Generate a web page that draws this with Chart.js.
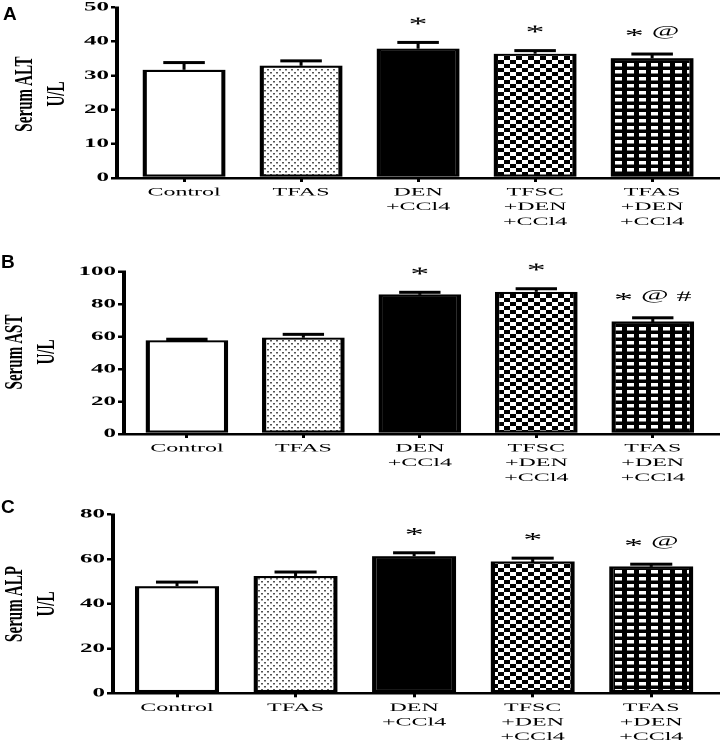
<!DOCTYPE html>
<html>
<head>
<meta charset="utf-8">
<script src="https://cdn.jsdelivr.net/npm/chart.js@4.4.1/dist/chart.umd.min.js"></script>
<style>
  html, body { margin: 0; padding: 0; background: #fff; }
  body { width: 720px; height: 751px; position: relative; overflow: hidden; font-family: "Liberation Serif", serif; }
  .panel { position: absolute; left: 0; width: 720px; }
  .stretch { position: absolute; left: 0; top: 0; width: 360px; transform: scaleX(2); transform-origin: 0 0; }
  .letter { position: absolute; font: bold 19px "Liberation Sans", Arial, sans-serif; line-height: 1; }
  .ytitle { position: absolute; left: 0; top: 0; white-space: nowrap; font-size: 26px; font-weight: bold; line-height: 1; transform-origin: 0 0; color: #000; }
</style>
</head>
<body>
<script>
// groups on the x axis (multi-line labels)
const groups = [["Control"], ["TFAS"], ["DEN", "+CCl4"], ["TFSC", "+DEN", "+CCl4"], ["TFAS", "+DEN", "+CCl4"]]

// serum ALT (U/L)
const altMean = [31.7, 32.9, 37.9, 36.4, 35.1]
const altSem = [2.1, 1.4, 1.8, 0.9, 1.2]
const altMarks = ["", "", "*", "*", "* @"]

// serum AST (U/L)
const astMean = [57.8, 59.4, 86.0, 87.6, 69.3]
const astSem = [0.6, 2.0, 1.3, 1.9, 2.3]
const astMarks = ["", "", "*", "*", "* @ #"]

// serum ALP (U/L)
const alpMean = [47.9, 52.4, 61.3, 58.9, 56.7]
const alpSem = [1.8, 1.8, 1.5, 1.5, 1.0]
const alpMarks = ["", "", "*", "*", "* @"]

Chart.defaults.color = "#000"
Chart.defaults.font.family = '"Liberation Serif", "Times New Roman", serif'

// tiles are drawn in backing pixels (canvas runs at dpr 2, then stretched 2x in x by css)
function makePattern(w, h, draw) {
  const c = document.createElement("canvas")
  c.width = w; c.height = h
  const g = c.getContext("2d")
  draw(g, w, h)
  const p = g.createPattern(c, "repeat")
  p.setTransform(new DOMMatrix([0.5, 0, 0, 0.5, 0, 0]))
  return p
}

const dots = makePattern(6, 12, (g, w, h) => {
  g.fillStyle = "#fff"; g.fillRect(0, 0, w, h)
  g.fillStyle = "#555"
  g.fillRect(0, 0, 2, 3)
  g.fillRect(3, 6, 2, 3)
})
const checker = makePattern(12, 16, (g, w, h) => {
  g.fillStyle = "#fff"; g.fillRect(0, 0, w, h)
  g.fillStyle = "#000"
  g.fillRect(0, 0, 6, 8)
  g.fillRect(6, 8, 6, 8)
})
const grid = makePattern(12, 14, (g, w, h) => {
  g.fillStyle = "#000"; g.fillRect(0, 0, w, h)
  g.fillStyle = "#fff"
  g.fillRect(3, 0, 7, 7)
})
const fills = ["#fff", dots, "#000", checker, grid]

// top-only error bars plus the significance marks above them
const errorBars = {
  id: "errorBars",
  afterDatasetsDraw(chart, args, opts) {
    const { ctx } = chart
    const y = chart.scales.y
    const meta = chart.getDatasetMeta(0)
    ctx.save()
    ctx.fillStyle = "#000"
    meta.data.forEach((bar, i) => {
      const top = y.getPixelForValue(opts.mean[i] + opts.sem[i])
      const w = bar.width * 0.5
      ctx.fillRect(bar.x - 0.75, top, 1.5, bar.y - top)
      ctx.fillRect(bar.x - w / 2, top - 1.5, w, 3)
      if (!opts.marks[i]) return
      const parts = opts.marks[i].split(" ").map(t => {
        ctx.font = (t === "*" ? "19px" : "15px") + ' "Liberation Serif"'
        const m = ctx.measureText(t)
        return { t, font: ctx.font, w: m.width, a: m.actualBoundingBoxAscent, d: m.actualBoundingBoxDescent }
      })
      const gap = 4
      const total = parts.reduce((s, p) => s + p.w, 0) + gap * (parts.length - 1)
      let x = bar.x - total / 2
      const mid = top - 22
      ctx.textAlign = "left"
      ctx.textBaseline = "alphabetic"
      parts.forEach(p => {
        ctx.font = p.font
        ctx.fillText(p.t, x, mid + (p.a - p.d) / 2)
        x += p.w + gap
      })
    })
    ctx.restore()
  }
}

function panel({ top, height, left, right, plotTop, plotBottom, xMin, xMax, yMax, step, mean, sem, marks, letter, letterTop, title, titleX, titleY }) {
  const div = document.createElement("div")
  div.className = "panel"
  div.style.top = top + "px"
  div.style.height = height + "px"
  document.body.appendChild(div)

  const wrap = document.createElement("div")
  wrap.className = "stretch"
  wrap.style.height = height + "px"
  div.appendChild(wrap)
  const canvas = document.createElement("canvas")
  canvas.width = 360
  canvas.height = height
  wrap.appendChild(canvas)

  const l = document.createElement("div")
  l.className = "letter"
  l.textContent = letter
  l.style.left = (letter === "A" ? 3 : 1) + "px"
  l.style.top = letterTop + "px"
  div.appendChild(l)

  title.forEach((t, k) => {
    const s = document.createElement("div")
    s.className = "ytitle"
    s.textContent = t
    s.style.transform = `translate(${titleX[k]}px, ${titleY}px) rotate(-90deg) scaleX(0.58) translate(-50%, -21.8px)`
    div.appendChild(s)
  })

  new Chart(canvas, {
    type: "bar",
    data: {
      datasets: [{
        data: mean.map((v, i) => ({ x: i, y: v })),
        backgroundColor: fills,
        borderColor: "#000",
        borderWidth: 2.2,
        borderSkipped: false,
        barPercentage: 0.71,
        categoryPercentage: 1
      }]
    },
    options: {
      responsive: false,
      animation: false,
      devicePixelRatio: 2,
      layout: { padding: { top: plotTop, left: 0, right: right, bottom: 0 } },
      plugins: {
        legend: { display: false },
        tooltip: { enabled: false },
        errorBars: { mean, sem, marks }
      },
      scales: {
        x: {
          type: "linear",
          offset: false,
          min: xMin,
          max: xMax,
          afterBuildTicks: (scale) => { scale.ticks = groups.map((_, i) => ({ value: i })) },
          afterFit: (scale) => { scale.height = height - plotBottom },
          ticks: { callback: (v) => groups[v], autoSkip: false, maxRotation: 0, padding: 3, font: { size: 12, lineHeight: 1.22 } },
          grid: { offset: false, drawOnChartArea: false, drawTicks: true, tickLength: 4, lineWidth: 1.5, color: "#000" },
          border: { display: true, color: "#000", width: 2.5 }
        },
        y: {
          min: 0,
          max: yMax,
          afterFit: (scale) => { scale.width = left },
          ticks: { stepSize: step, padding: 1, font: { size: 12.5, weight: "bold", lineHeight: 1 } },
          grid: { drawOnChartArea: false, drawTicks: true, tickLength: 3, lineWidth: 2.5, color: "#000" },
          border: { display: true, color: "#000", width: 2 }
        }
      }
    },
    plugins: [errorBars]
  })
}

panel({ top: 0, height: 250, left: 58.5, right: 0, plotTop: 6, plotBottom: 178, xMin: -0.573, xMax: 4.58, yMax: 50, step: 10,
  mean: altMean, sem: altSem, marks: altMarks, letter: "A", letterTop: 3.5, title: ["Serum ALT", "U/L"], titleX: [33, 65], titleY: 94 })
panel({ top: 250, height: 250, left: 62, right: 1, plotTop: 21.7, plotBottom: 184, xMin: -0.54, xMax: 4.56, yMax: 100, step: 20,
  mean: astMean, sem: astSem, marks: astMarks, letter: "B", letterTop: 1.5, title: ["Serum AST", "U/L"], titleX: [23, 55], titleY: 102 })
panel({ top: 500, height: 251, left: 56.5, right: 0, plotTop: 14.3, plotBottom: 193.3, xMin: -0.54, xMax: 4.58, yMax: 80, step: 20,
  mean: alpMean, sem: alpSem, marks: alpMarks, letter: "C", letterTop: -3, title: ["Serum ALP", "U/L"], titleX: [23, 55], titleY: 104 })
</script>
</body>
</html>
